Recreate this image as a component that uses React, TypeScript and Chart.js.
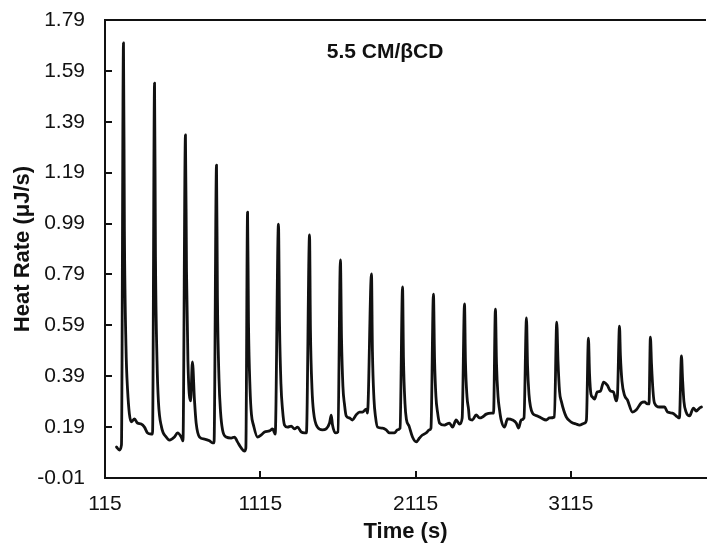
import React, { useEffect, useRef } from "react";
import { Chart, registerables } from "chart.js";

Chart.register(...registerables);

const chartTitle = "5.5 CM/βCD";
const xAxisTitle = "Time (s)";
const yAxisTitle = "Heat Rate (μJ/s)";

const xTicks = [115, 1115, 2115, 3115];
const yTicks = [-0.01, 0.19, 0.39, 0.59, 0.79, 0.99, 1.19, 1.39, 1.59, 1.79];
const xMin = 115;
const xMax = 3985;
const yMin = -0.01;
const yMax = 1.79;

const timeS = [
  189, 208, 221, 234, 240, 250, 260, 284, 305, 324, 348, 369, 389, 412, 421,
  434, 440, 450, 459, 479, 509, 530, 562, 582, 606, 617,
  633, 640, 649, 666, 678, 691, 702, 724, 756, 788, 807, 817,
  833, 839, 849, 859, 872, 895, 928, 949, 968, 992, 1013, 1022,
  1033, 1039, 1049, 1058, 1071, 1097, 1121, 1142, 1174, 1194, 1211,
  1232, 1239, 1248, 1258, 1271, 1290, 1314, 1335, 1355, 1378, 1400, 1412,
  1432, 1438, 1448, 1458, 1483, 1515, 1539, 1561, 1572, 1580, 1599, 1615,
  1631, 1638, 1647, 1657, 1668, 1689, 1709, 1732, 1754, 1773, 1797, 1805,
  1831, 1837, 1847, 1857, 1870, 1902, 1926, 1947, 1979, 1998, 2015,
  2031, 2037, 2047, 2056, 2073, 2095, 2119, 2140, 2159, 2183, 2204, 2214,
  2230, 2237, 2246, 2256, 2269, 2301, 2333, 2353, 2376, 2398, 2415,
  2430, 2436, 2446, 2456, 2462, 2481, 2505, 2526, 2546, 2570, 2602, 2617,
  2629, 2636, 2646, 2655, 2666, 2687, 2707, 2739, 2763, 2778, 2795, 2813,
  2829, 2836, 2845, 2855, 2868, 2881, 2900, 2924, 2956, 2977, 3009,
  3024, 3032, 3042, 3054, 3085, 3117, 3149, 3170, 3203, 3215,
  3228, 3235, 3244, 3254, 3267, 3284, 3306, 3325, 3349, 3370, 3389, 3407, 3415,
  3428, 3434, 3444, 3460, 3479, 3512, 3535, 3568, 3589, 3608, 3618,
  3627, 3634, 3644, 3653, 3685, 3718, 3737, 3769, 3801, 3814,
  3827, 3834, 3843, 3857, 3879, 3904, 3922, 3943, 3956,
];

const heatRate = [
  0.112, 0.100, 0.120, 1.700, 0.96, 0.51, 0.34, 0.211, 0.222, 0.206, 0.202, 0.190, 0.167, 0.163, 0.163,
  1.542, 0.86, 0.45, 0.29, 0.190, 0.151, 0.139, 0.151, 0.167, 0.151, 0.136,
  1.338, 0.80, 0.45, 0.293, 0.446, 0.297, 0.206, 0.151, 0.143, 0.136, 0.128, 0.128,
  1.220, 0.70, 0.38, 0.25, 0.179, 0.151, 0.147, 0.151, 0.132, 0.108, 0.096, 0.108,
  1.035, 0.60, 0.34, 0.24, 0.198, 0.151, 0.159, 0.171, 0.175, 0.183, 0.163,
  0.988, 0.59, 0.36, 0.26, 0.198, 0.190, 0.194, 0.183, 0.190, 0.171, 0.167, 0.167,
  0.945, 0.57, 0.34, 0.25, 0.190, 0.179, 0.183, 0.206, 0.237, 0.198, 0.167, 0.171,
  0.847, 0.54, 0.35, 0.28, 0.234, 0.226, 0.218, 0.238, 0.249, 0.249, 0.261, 0.245,
  0.792, 0.49, 0.30, 0.23, 0.190, 0.186, 0.179, 0.167, 0.167, 0.179, 0.186,
  0.741, 0.46, 0.28, 0.22, 0.194, 0.151, 0.132, 0.147, 0.159, 0.167, 0.179, 0.186,
  0.713, 0.46, 0.31, 0.25, 0.206, 0.198, 0.206, 0.190, 0.218, 0.202, 0.226,
  0.674, 0.45, 0.31, 0.26, 0.222, 0.218, 0.238, 0.226, 0.230, 0.241, 0.245, 0.245,
  0.654, 0.44, 0.31, 0.26, 0.218, 0.190, 0.222, 0.218, 0.206, 0.186, 0.218, 0.226,
  0.619, 0.43, 0.32, 0.27, 0.245, 0.238, 0.234, 0.226, 0.218, 0.226, 0.230,
  0.603, 0.45, 0.33, 0.29, 0.230, 0.210, 0.202, 0.198, 0.206, 0.218,
  0.540, 0.40, 0.32, 0.308, 0.300, 0.328, 0.332, 0.367, 0.355, 0.332, 0.328, 0.293, 0.316,
  0.587, 0.47, 0.37, 0.316, 0.297, 0.249, 0.257, 0.285, 0.289, 0.281, 0.281,
  0.544, 0.44, 0.33, 0.285, 0.269, 0.269, 0.249, 0.245, 0.230, 0.226,
  0.470, 0.38, 0.29, 0.249, 0.234, 0.265, 0.253, 0.265, 0.269,
];

const FONT = "'Liberation Sans', Arial, sans-serif";
const INK = "#111";

const framePlugin = {
  id: "frameAndInnerTicks",
  afterDraw(chart: any) {
    const { ctx, chartArea: a, scales } = chart;
    ctx.save();
    ctx.strokeStyle = INK;
    ctx.lineWidth = 2;
    ctx.beginPath();
    ctx.moveTo(a.left - 1, a.top);
    ctx.lineTo(a.right, a.top);
    for (const v of yTicks) {
      const y = Math.round(scales.y.getPixelForValue(v));
      ctx.moveTo(a.left, y);
      ctx.lineTo(a.left + 7, y);
    }
    for (const t of xTicks) {
      const x = Math.round(scales.x.getPixelForValue(t));
      ctx.moveTo(x, a.bottom);
      ctx.lineTo(x, a.bottom - 7);
    }
    ctx.stroke();
    ctx.fillStyle = INK;
    ctx.font = `bold 21px ${FONT}`;
    ctx.textAlign = "center";
    ctx.textBaseline = "middle";
    ctx.fillText(chartTitle, a.left + (a.right - a.left) * 0.466, a.top + 32);
    ctx.restore();
  },
};

export default function App() {
  const ref = useRef<HTMLCanvasElement | null>(null);

  useEffect(() => {
    if (!ref.current) return;
    const points = timeS.map((t, i) => ({ x: t, y: heatRate[i] }));
    const chart = new Chart(ref.current, {
      type: "line",
      data: {
        datasets: [
          {
            data: points,
            borderColor: INK,
            borderWidth: 2.8,
            pointRadius: 0,
            fill: false,
            cubicInterpolationMode: "monotone",
            borderJoinStyle: "round",
            borderCapStyle: "round",
          },
        ],
      },
      options: {
        responsive: false,
        animation: false,
        layout: { padding: { top: 20, right: 1, left: 0, bottom: 0 } },
        plugins: {
          legend: { display: false },
          tooltip: { enabled: false },
          title: { display: false },
        },
        scales: {
          x: {
            type: "linear",
            min: xMin,
            max: xMax,
            afterBuildTicks: (s: any) => {
              s.ticks = xTicks.map((v) => ({ value: v }));
            },
            afterFit: (s: any) => {
              s.height = 67;
              s.paddingLeft = 0;
              s.paddingRight = 0;
            },
            grid: { display: false, drawTicks: false },
            border: { display: true, color: INK, width: 2 },
            ticks: {
              autoSkip: false,
              maxRotation: 0,
              padding: 14,
              color: INK,
              font: { family: FONT, size: 21 },
              callback: (v: any) => String(v),
            },
            title: {
              display: true,
              text: xAxisTitle,
              color: INK,
              font: { family: FONT, size: 22, weight: "bold" },
              padding: { top: 0, bottom: 0 },
            },
          },
          y: {
            type: "linear",
            min: yMin,
            max: yMax,
            afterBuildTicks: (s: any) => {
              s.ticks = yTicks.map((v) => ({ value: v }));
            },
            afterFit: (s: any) => {
              s.width = 105;
              s.paddingTop = 0;
              s.paddingBottom = 0;
            },
            grid: { display: false, drawTicks: false },
            border: { display: true, color: INK, width: 2 },
            ticks: {
              autoSkip: false,
              padding: 20,
              color: INK,
              font: { family: FONT, size: 21 },
              callback: (v: any) => Number(v).toFixed(2),
            },
            title: {
              display: true,
              text: yAxisTitle,
              color: INK,
              font: { family: FONT, size: 22, weight: "bold" },
              padding: { top: 10, bottom: 0 },
            },
          },
        },
      },
      plugins: [framePlugin],
    });
    return () => chart.destroy();
  }, []);

  return (
    <div style={{ position: "absolute", left: 0, top: 0, width: 707, height: 545, background: "#fff" }}>
      <canvas ref={ref} width={707} height={545} style={{ display: "block", width: 707, height: 545 }} />
    </div>
  );
}
